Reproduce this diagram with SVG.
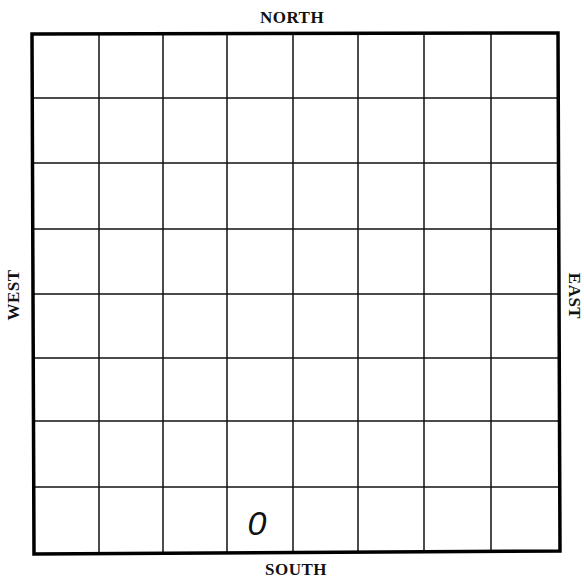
<svg xmlns="http://www.w3.org/2000/svg" width="584" height="579" viewBox="0 0 584 579">
<style>
.lbl{font-family:"Liberation Serif","DejaVu Serif",serif;font-weight:bold;font-size:17px;fill:#111;text-anchor:middle;letter-spacing:0.5px}
.grid{stroke:#111;stroke-width:1.5;fill:none}
.frame{stroke:#000;stroke-width:3.5;fill:none}
</style>
<rect width="584" height="579" fill="#fff"/>
<g id="grid" class="grid">
<line x1="99" y1="34" x2="99" y2="553"/>
<line x1="163" y1="34" x2="163" y2="553"/>
<line x1="227" y1="34" x2="227" y2="553"/>
<line x1="293" y1="34" x2="293" y2="553"/>
<line x1="358" y1="34" x2="358" y2="553"/>
<line x1="424" y1="34" x2="424" y2="553"/>
<line x1="491" y1="34" x2="491" y2="553"/>
<line x1="33" y1="98" x2="558" y2="98"/>
<line x1="33" y1="163" x2="558" y2="163"/>
<line x1="33" y1="229" x2="558" y2="229"/>
<line x1="33" y1="294" x2="558" y2="294"/>
<line x1="33" y1="358" x2="558" y2="358"/>
<line x1="33" y1="421" x2="558" y2="421"/>
<line x1="33" y1="487" x2="558" y2="487"/>
</g>
<g id="frame"><path class="frame" d="M32,34 L558,33 L560,551 L34,554 Z"/></g>
<g id="north"><text class="lbl" x="292" y="23">NORTH</text></g>
<g id="south"><text class="lbl" x="296" y="575">SOUTH</text></g>
<g id="west"><text class="lbl" transform="translate(19,295) rotate(-90)">WEST</text></g>
<g id="east"><text class="lbl" transform="translate(569,296) rotate(90)">EAST</text></g>
<g id="mark"><text x="257" y="535" font-family="Liberation Sans,sans-serif" font-style="italic" font-size="34" fill="#111" text-anchor="middle">0</text></g>
</svg>
